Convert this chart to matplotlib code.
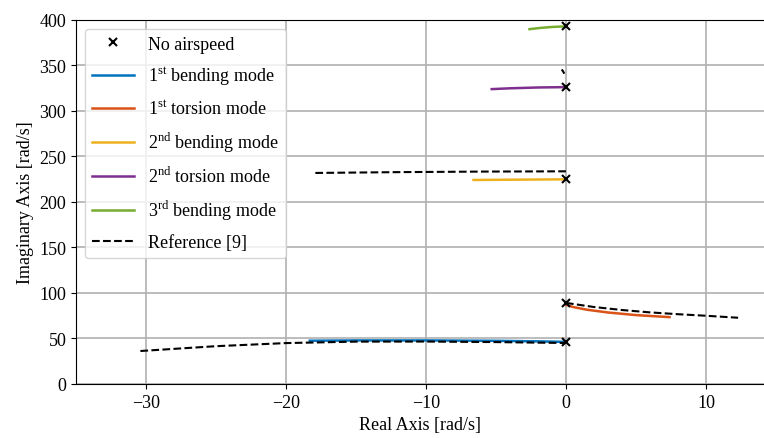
import matplotlib
matplotlib.use('Agg')
from matplotlib import pyplot as plt

plt.rcParams['font.family'] = ['Liberation Serif', 'DejaVu Serif']
plt.rcParams['mathtext.fontset'] = 'custom'
plt.rcParams['mathtext.rm'] = 'Liberation Serif'
plt.rcParams['font.size'] = 13

# eigenvalues at zero airspeed
x0_re = [0, 0, 0, 0, 0]
x0_im = [46, 89, 225, 326, 392.5]

# root locus branches (real, imag)
bend1_re = [-18.3, -15, -10, -5, -2, 0]
bend1_im = [47.5, 47.8, 47.8, 47.4, 46.8, 46.2]
tors1_re = [0, 0.5, 1.5, 3, 5, 7.4]
tors1_im = [87, 84.5, 81.5, 78.5, 75.6, 73.4]
bend2_re = [-6.6, -4, -2, 0]
bend2_im = [223.9, 224.2, 224.4, 224.6]
tors2_re = [-5.3, -4, -2, 0]
tors2_im = [323.6, 324.5, 325.4, 325.8]
bend3_re = [-2.6, -1.8, -1, 0]
bend3_im = [389.4, 390.8, 391.8, 392.5]

# reference [9], drawn as separate pieces
ref_pieces = [
    ([-30.4, -25, -20, -15, -10, -5, 0], [36.2, 41.5, 44.9, 46.5, 46.6, 46.0, 45.0]),
    ([0, 2, 4, 6, 8, 10, 12.3], [89, 84.5, 81.2, 78.6, 76.6, 74.9, 72.7]),
    ([-17.9, -12, -6, 0], [231.6, 232.5, 233.1, 233.4]),
    ([-0.3, -0.2, -0.12], [345.2, 343, 340.5]),
]

fig = plt.figure(figsize=(7.64, 4.39), dpi=100)
ax = fig.add_axes([76 / 764, 1 - 385 / 439, 688 / 764, 364.5 / 439])

ax.plot(bend1_re, bend1_im, color='#0072BD', lw=1.8, label=r'1$^{\mathrm{st}}$ bending mode')
ax.plot(tors1_re, tors1_im, color='#D95319', lw=1.8, label=r'1$^{\mathrm{st}}$ torsion mode')
ax.plot(bend2_re, bend2_im, color='#EDB120', lw=1.8, label=r'2$^{\mathrm{nd}}$ bending mode')
ax.plot(tors2_re, tors2_im, color='#7E2F8E', lw=1.8, label=r'2$^{\mathrm{nd}}$ torsion mode')
ax.plot(bend3_re, bend3_im, color='#77AC30', lw=1.8, label=r'3$^{\mathrm{rd}}$ bending mode')
for i, (re, im) in enumerate(ref_pieces):
    ax.plot(re, im, 'k--', lw=1.5, label='Reference [9]' if i == 0 else None)
ax.plot(x0_re, x0_im, 'kx', ms=5.5, mew=1.5, ls='none', label='No airspeed')

h, l = ax.get_legend_handles_labels()
order = [6, 0, 1, 2, 3, 4, 5]
ax.legend([h[i] for i in order], [l[i] for i in order], loc='upper left',
          handlelength=2.3, labelspacing=0.66, borderaxespad=0.5)

ax.set_xlim(-35, 14.15)
ax.set_ylim(0, 400)
ax.set_yticks(range(0, 401, 50))
ax.set_xticks([-30, -20, -10, 0, 10])
ax.grid(True, color='#b0b0b0', lw=1.2)
ax.set_axisbelow(True)
ax.spines['right'].set_visible(False)
ax.set_xlabel('Real Axis [rad/s]')
ax.set_ylabel('Imaginary Axis [rad/s]')

fig.savefig('out.png', dpi=100)
